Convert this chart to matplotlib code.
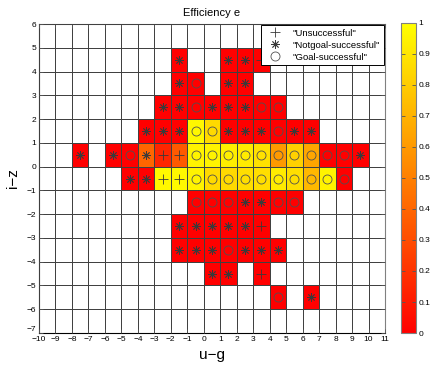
import numpy as np
import matplotlib
matplotlib.use('Agg')
import matplotlib.pyplot as plt
from matplotlib.lines import Line2D

plt.rcParams['font.family'] = ['Liberation Sans', 'DejaVu Sans']

# Grid extent (u-g on x, i-z on y)
u_min, u_max = -10, 11
v_min, v_max = -7, 6

# Each row: lower edge of cell in i-z, first u cell, outcome per cell
# '+' unsuccessful, '*' notgoal-successful, 'o' goal-successful, '.' empty
row_v = [4, 3, 2, 1, 0, -1, -2, -3, -4, -5, -6]
row_start = [-2, -2, -3, -4, -8, -5, -1, -2, -2, 0, 4]
row_kinds = [
    "*..**+",
    "*o.**",
    "**o***oo",
    "***oo***o**",
    "*.*o*++oooooooooo*",
    "**++oooooooooo",
    "ooo**oo",
    "*****+",
    "***o***",
    "**.+",
    "o.*",
]
# Efficiency per cell (None where empty)
row_eff = [
    [0, None, None, 0, 0, 0],
    [0, 0, None, 0, 0],
    [0, 0, 0, 0, 0, 0, 0, 0],
    [0, 0, 0, 0.97, 0.85, 0, 0, 0, 0, 0, 0],
    [0, None, 0, 0, 0.40, 0.15, 0.35, 0.95, 0.95, 0.93, 0.92, 0.88, 0.60, 0.82, 0.65, 0, 0, 0],
    [0, 0, 0.97, 0.97, 0.95, 0.85, 0.85, 0.87, 0.87, 0.92, 0.87, 0.72, 0.95, 0],
    [0, 0, 0, 0, 0, 0, 0],
    [0, 0, 0, 0, 0, 0],
    [0, 0, 0, 0, 0, 0, 0],
    [0, 0, None, 0],
    [0, None, 0],
]

legend_labels = ['"Unsuccessful"', '"Notgoal-successful"', '"Goal-successful"']

# build efficiency matrix and marker positions
eff = np.full((v_max - v_min, u_max - u_min), np.nan)
pts = {'+': ([], []), '*': ([], []), 'o': ([], [])}
for v, u0, kinds, effs in zip(row_v, row_start, row_kinds, row_eff):
    for k, (kind, e) in enumerate(zip(kinds, effs)):
        if kind == '.':
            continue
        u = u0 + k
        eff[v - v_min, u - u_min] = e
        pts[kind][0].append(u + 0.5)
        pts[kind][1].append(v + 0.5)

fig = plt.figure(figsize=(4.36, 3.67), dpi=100)
ax = fig.add_axes([0.0894, 0.0926, 0.7936, 0.842])
cax = fig.add_axes([0.919, 0.0926, 0.0344, 0.845])

mesh = ax.pcolormesh(np.arange(u_min, u_max + 1), np.arange(v_min, v_max + 1),
                     np.ma.masked_invalid(eff), cmap='autumn', vmin=0, vmax=1,
                     edgecolors='#808080', linewidth=0.6)

mk_color = '#3a3a3a'
ax.plot(*pts['+'], ls='none', marker='+', ms=7, mew=0.6, color=mk_color, zorder=3)
ax.plot(*pts['*'], ls='none', marker=(8, 2, 0), ms=6, mew=0.6, color=mk_color, zorder=3)
ax.plot(*pts['o'], ls='none', marker='o', ms=6.5, mew=0.6, mfc='none', mec='#505050', zorder=3)

ax.set_xlim(u_min, u_max)
ax.set_ylim(v_min, v_max)
ax.set_xticks(np.arange(u_min, u_max + 1))
ax.set_yticks(np.arange(v_min, v_max + 1))
ax.tick_params(labelsize=6, direction='in', length=3, width=0.6,
               top=True, right=True, color='#555555', pad=2)
# lift the lowest y label so it clears the first x label
ax.get_yticklabels()[0].set_va('bottom')
ax.grid(True, color='#404040', linewidth=0.7)
ax.set_axisbelow(False)
for side in ['left', 'bottom']:
    ax.spines[side].set_color('black')
    ax.spines[side].set_linewidth(0.8)
for side in ['top', 'right']:
    ax.spines[side].set_color('#808080')
    ax.spines[side].set_linewidth(0.8)

ax.set_title('Efficiency e', fontsize=8, pad=6)
ax.set_xlabel('u\u2212g', fontsize=11, labelpad=4)
ax.set_ylabel('i\u2212z', fontsize=11, labelpad=5)

handles = [
    Line2D([], [], ls='none', marker='+', ms=7, mew=0.6, color=mk_color),
    Line2D([], [], ls='none', marker=(8, 2, 0), ms=6, mew=0.6, color=mk_color),
    Line2D([], [], ls='none', marker='o', ms=6.5, mew=0.6, mfc='none', mec='#505050'),
]
leg = ax.legend(handles, legend_labels, loc='upper right', fontsize=6.8,
                fancybox=False, framealpha=1, edgecolor='black',
                borderaxespad=0.15, handletextpad=0.8, labelspacing=0.32,
                borderpad=0.35, handlelength=2.2)
leg.get_frame().set_linewidth(0.7)
leg.set_zorder(5)

cb = fig.colorbar(mesh, cax=cax, ticks=np.arange(0, 1.01, 0.1))
cb.ax.set_yticklabels(['0', '0.1', '0.2', '0.3', '0.4', '0.5', '0.6', '0.7', '0.8', '0.9', '1'])
cb.ax.tick_params(labelsize=6, direction='in', length=3, width=0.6, left=True, right=True,
                  color='#555555', pad=2)
cb.outline.set_edgecolor('#808080')
cb.outline.set_linewidth(0.8)

fig.savefig('out.png', dpi=100)
